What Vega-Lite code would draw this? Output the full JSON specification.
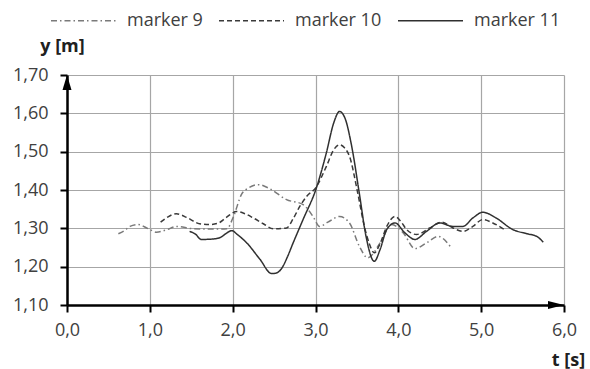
{
  "$schema": "https://vega.github.io/schema/vega-lite/v6.json",
  "width": 497,
  "height": 230,
  "autosize": {"type": "none"},
  "padding": {"left": 67, "top": 75, "right": 26, "bottom": 64},
  "background": "white",
  "config": {
    "view": {"stroke": null},
    "font": "Open Sans",
    "axis": {"labelFont": "Open Sans", "titleFont": "Open Sans"},
    "legend": {"labelFont": "Open Sans"}
  },
  "layer": [
    {
      "data": {"values": [
        {"t": 0.62, "y": 1.286, "series": "marker 9"},
        {"t": 0.70, "y": 1.295, "series": "marker 9"},
        {"t": 0.76, "y": 1.305, "series": "marker 9"},
        {"t": 0.86, "y": 1.310, "series": "marker 9"},
        {"t": 0.98, "y": 1.299, "series": "marker 9"},
        {"t": 1.08, "y": 1.290, "series": "marker 9"},
        {"t": 1.20, "y": 1.296, "series": "marker 9"},
        {"t": 1.32, "y": 1.305, "series": "marker 9"},
        {"t": 1.52, "y": 1.299, "series": "marker 9"},
        {"t": 1.75, "y": 1.298, "series": "marker 9"},
        {"t": 1.93, "y": 1.299, "series": "marker 9"},
        {"t": 2.01, "y": 1.331, "series": "marker 9"},
        {"t": 2.11, "y": 1.390, "series": "marker 9"},
        {"t": 2.19, "y": 1.405, "series": "marker 9"},
        {"t": 2.31, "y": 1.414, "series": "marker 9"},
        {"t": 2.45, "y": 1.403, "series": "marker 9"},
        {"t": 2.65, "y": 1.375, "series": "marker 9"},
        {"t": 2.85, "y": 1.362, "series": "marker 9"},
        {"t": 2.97, "y": 1.331, "series": "marker 9"},
        {"t": 3.05, "y": 1.305, "series": "marker 9"},
        {"t": 3.15, "y": 1.316, "series": "marker 9"},
        {"t": 3.29, "y": 1.331, "series": "marker 9"},
        {"t": 3.41, "y": 1.314, "series": "marker 9"},
        {"t": 3.53, "y": 1.253, "series": "marker 9"},
        {"t": 3.63, "y": 1.223, "series": "marker 9"},
        {"t": 3.78, "y": 1.262, "series": "marker 9"},
        {"t": 3.92, "y": 1.310, "series": "marker 9"},
        {"t": 4.06, "y": 1.288, "series": "marker 9"},
        {"t": 4.20, "y": 1.247, "series": "marker 9"},
        {"t": 4.34, "y": 1.262, "series": "marker 9"},
        {"t": 4.48, "y": 1.279, "series": "marker 9"},
        {"t": 4.64, "y": 1.249, "series": "marker 9"},

        {"t": 1.13, "y": 1.316, "series": "marker 10"},
        {"t": 1.22, "y": 1.330, "series": "marker 10"},
        {"t": 1.32, "y": 1.338, "series": "marker 10"},
        {"t": 1.45, "y": 1.328, "series": "marker 10"},
        {"t": 1.60, "y": 1.312, "series": "marker 10"},
        {"t": 1.72, "y": 1.310, "series": "marker 10"},
        {"t": 1.83, "y": 1.314, "series": "marker 10"},
        {"t": 1.92, "y": 1.328, "series": "marker 10"},
        {"t": 2.05, "y": 1.344, "series": "marker 10"},
        {"t": 2.15, "y": 1.338, "series": "marker 10"},
        {"t": 2.25, "y": 1.327, "series": "marker 10"},
        {"t": 2.37, "y": 1.312, "series": "marker 10"},
        {"t": 2.49, "y": 1.299, "series": "marker 10"},
        {"t": 2.65, "y": 1.301, "series": "marker 10"},
        {"t": 2.73, "y": 1.325, "series": "marker 10"},
        {"t": 2.81, "y": 1.357, "series": "marker 10"},
        {"t": 2.90, "y": 1.385, "series": "marker 10"},
        {"t": 3.00, "y": 1.405, "series": "marker 10"},
        {"t": 3.13, "y": 1.461, "series": "marker 10"},
        {"t": 3.22, "y": 1.505, "series": "marker 10"},
        {"t": 3.29, "y": 1.518, "series": "marker 10"},
        {"t": 3.35, "y": 1.510, "series": "marker 10"},
        {"t": 3.41, "y": 1.488, "series": "marker 10"},
        {"t": 3.51, "y": 1.392, "series": "marker 10"},
        {"t": 3.59, "y": 1.305, "series": "marker 10"},
        {"t": 3.65, "y": 1.260, "series": "marker 10"},
        {"t": 3.71, "y": 1.236, "series": "marker 10"},
        {"t": 3.78, "y": 1.260, "series": "marker 10"},
        {"t": 3.86, "y": 1.305, "series": "marker 10"},
        {"t": 3.96, "y": 1.331, "series": "marker 10"},
        {"t": 4.03, "y": 1.318, "series": "marker 10"},
        {"t": 4.10, "y": 1.297, "series": "marker 10"},
        {"t": 4.22, "y": 1.284, "series": "marker 10"},
        {"t": 4.38, "y": 1.301, "series": "marker 10"},
        {"t": 4.52, "y": 1.316, "series": "marker 10"},
        {"t": 4.66, "y": 1.301, "series": "marker 10"},
        {"t": 4.78, "y": 1.292, "series": "marker 10"},
        {"t": 4.90, "y": 1.305, "series": "marker 10"},
        {"t": 5.02, "y": 1.323, "series": "marker 10"},
        {"t": 5.14, "y": 1.314, "series": "marker 10"},
        {"t": 5.28, "y": 1.297, "series": "marker 10"},

        {"t": 1.48, "y": 1.292, "series": "marker 11"},
        {"t": 1.55, "y": 1.285, "series": "marker 11"},
        {"t": 1.62, "y": 1.271, "series": "marker 11"},
        {"t": 1.75, "y": 1.272, "series": "marker 11"},
        {"t": 1.85, "y": 1.276, "series": "marker 11"},
        {"t": 1.93, "y": 1.288, "series": "marker 11"},
        {"t": 1.99, "y": 1.294, "series": "marker 11"},
        {"t": 2.05, "y": 1.285, "series": "marker 11"},
        {"t": 2.17, "y": 1.262, "series": "marker 11"},
        {"t": 2.33, "y": 1.219, "series": "marker 11"},
        {"t": 2.47, "y": 1.182, "series": "marker 11"},
        {"t": 2.52, "y": 1.183, "series": "marker 11"},
        {"t": 2.59, "y": 1.195, "series": "marker 11"},
        {"t": 2.66, "y": 1.225, "series": "marker 11"},
        {"t": 2.73, "y": 1.262, "series": "marker 11"},
        {"t": 2.85, "y": 1.323, "series": "marker 11"},
        {"t": 3.01, "y": 1.405, "series": "marker 11"},
        {"t": 3.13, "y": 1.496, "series": "marker 11"},
        {"t": 3.22, "y": 1.575, "series": "marker 11"},
        {"t": 3.29, "y": 1.605, "series": "marker 11"},
        {"t": 3.36, "y": 1.585, "series": "marker 11"},
        {"t": 3.43, "y": 1.522, "series": "marker 11"},
        {"t": 3.53, "y": 1.390, "series": "marker 11"},
        {"t": 3.61, "y": 1.279, "series": "marker 11"},
        {"t": 3.71, "y": 1.214, "series": "marker 11"},
        {"t": 3.78, "y": 1.245, "series": "marker 11"},
        {"t": 3.86, "y": 1.297, "series": "marker 11"},
        {"t": 3.96, "y": 1.314, "series": "marker 11"},
        {"t": 4.08, "y": 1.288, "series": "marker 11"},
        {"t": 4.20, "y": 1.271, "series": "marker 11"},
        {"t": 4.34, "y": 1.292, "series": "marker 11"},
        {"t": 4.50, "y": 1.314, "series": "marker 11"},
        {"t": 4.66, "y": 1.305, "series": "marker 11"},
        {"t": 4.78, "y": 1.305, "series": "marker 11"},
        {"t": 4.90, "y": 1.327, "series": "marker 11"},
        {"t": 5.02, "y": 1.342, "series": "marker 11"},
        {"t": 5.18, "y": 1.327, "series": "marker 11"},
        {"t": 5.38, "y": 1.297, "series": "marker 11"},
        {"t": 5.55, "y": 1.286, "series": "marker 11"},
        {"t": 5.67, "y": 1.279, "series": "marker 11"},
        {"t": 5.75, "y": 1.264, "series": "marker 11"}
      ]},
      "mark": {"type": "line", "interpolate": "monotone", "strokeWidth": 1.5},
      "encoding": {
        "x": {
          "field": "t", "type": "quantitative",
          "scale": {"domain": [0, 6], "nice": false, "zero": false},
          "axis": {
            "values": [0, 1, 2, 3, 4, 5, 6], "tickCount": 20, "labelOverlap": false,
            "labelExpr": "replace(format(datum.value, '.1f'), '.', ',')",
            "grid": true, "gridColor": "#a6a6a6", "gridWidth": 1.2,
            "domainColor": "#000000", "domainWidth": 2.5,
            "tickColor": "#000000", "tickWidth": 2, "tickSize": 7,
            "labelFontSize": 18, "labelColor": "#404040", "labelPadding": 9,
            "labelFlush": false,
            "title": "t [s]", "titleFontSize": 18, "titleFontWeight": "bold", "titleColor": "#202020",
            "titleX": 501, "titleY": 55, "titleAlign": "center", "titleBaseline": "middle"
          }
        },
        "y": {
          "field": "y", "type": "quantitative",
          "scale": {"domain": [1.1, 1.7], "nice": false, "zero": false},
          "axis": {
            "values": [1.1, 1.2, 1.3, 1.4, 1.5, 1.6, 1.7], "tickCount": 20, "labelOverlap": false,
            "labelExpr": "replace(format(datum.value, '.2f'), '.', ',')",
            "grid": true, "gridColor": "#a6a6a6", "gridWidth": 1.2,
            "domainColor": "#000000", "domainWidth": 2.5,
            "tickColor": "#000000", "tickWidth": 2, "tickSize": 7,
            "labelFontSize": 18, "labelColor": "#404040", "labelPadding": 12,
            "labelFlush": false,
            "title": "y [m]", "titleFontSize": 18, "titleFontWeight": "bold", "titleColor": "#202020",
            "titleAngle": 0, "titleX": -5, "titleY": -29, "titleAlign": "center", "titleBaseline": "middle"
          }
        },
        "color": {
          "field": "series", "type": "nominal",
          "scale": {"domain": ["marker 9", "marker 10", "marker 11"], "range": ["#7a7a7a", "#3a3a3a", "#303030"]},
          "legend": {
            "title": null, "orient": "none", "legendX": -17, "legendY": -88,
            "direction": "horizontal", "symbolType": "stroke", "symbolSize": 4225,
            "symbolStrokeWidth": 1.5, "labelOffset": 10, "columnPadding": 13,
            "labelFontSize": 18, "labelColor": "#404040", "padding": 0
          }
        },
        "strokeDash": {
          "field": "series", "type": "nominal",
          "scale": {"domain": ["marker 9", "marker 10", "marker 11"], "range": [[6, 3, 1.5, 3], [5, 3], [1, 0]]},
          "legend": {
            "title": null, "orient": "none", "legendX": -17, "legendY": -88,
            "direction": "horizontal", "symbolType": "stroke", "symbolSize": 4225,
            "symbolStrokeWidth": 1.5, "labelOffset": 10, "columnPadding": 13,
            "labelFontSize": 18, "labelColor": "#404040", "padding": 0
          }
        }
      }
    },
    {
      "data": {"values": [{"t": 0, "y": 1.7}]},
      "mark": {"type": "point", "shape": "M-0.6,1L0.6,1L0,-1Z", "size": 225, "filled": true, "color": "#000000", "opacity": 1, "yOffset": 7.5},
      "encoding": {
        "x": {"field": "t", "type": "quantitative"},
        "y": {"field": "y", "type": "quantitative"}
      }
    },
    {
      "data": {"values": [{"t": 6, "y": 1.1}]},
      "mark": {"type": "point", "shape": "M-1,-0.5L1,0L-1,0.5Z", "size": 256, "filled": true, "color": "#000000", "opacity": 1, "xOffset": -8},
      "encoding": {
        "x": {"field": "t", "type": "quantitative"},
        "y": {"field": "y", "type": "quantitative"}
      }
    }
  ]
}
